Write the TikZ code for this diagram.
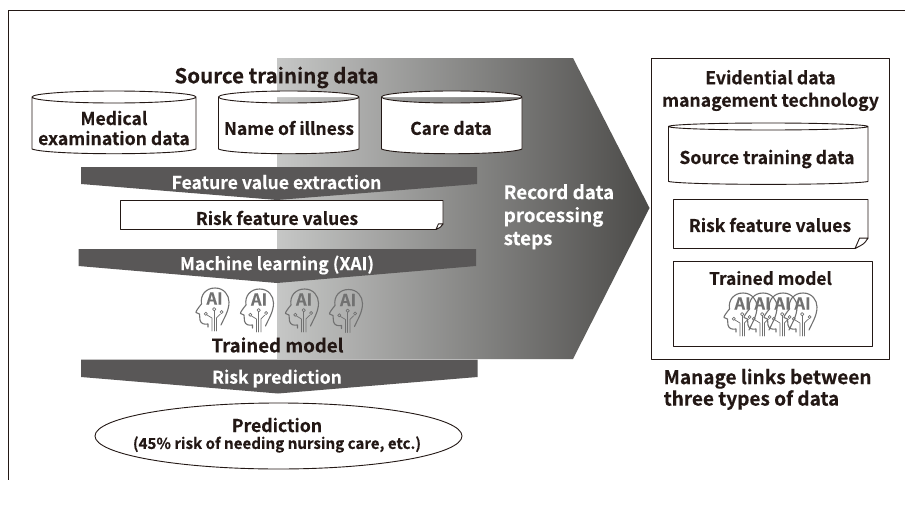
\documentclass[tikz,border=0pt]{standalone}
\usepackage{fontspec}
\setmainfont{Noto Sans CJK JP}[BoldFont={Noto Sans CJK JP Bold},BoldFeatures={FakeBold=0.25}]
\usetikzlibrary{shapes.geometric}
\definecolor{ink}{HTML}{231815}
\definecolor{band}{HTML}{595757}
\definecolor{headc}{HTML}{717171}
\definecolor{gradl}{HTML}{C6C7C6}
\definecolor{gradr}{HTML}{4B4A48}
\tikzset{
  outline/.style={draw=ink,line width=0.9pt,fill=white,line join=round},
  lab/.style={font=\bfseries\fontsize{#1}{20}\selectfont,text=ink,align=center,inner sep=0pt},
  wlab/.style={font=\bfseries\fontsize{#1}{23}\selectfont,text=white,align=left,inner sep=0pt},
  hd/.style={draw=headc,line width=1.1pt,line join=round,line cap=round},
  pics/aihead/.style={code={
    \draw[hd] (13,40) -- (13,37) .. controls (9,37.5) and (6,37) .. (5,33)
      -- (4.5,27) -- (1,25.5) .. controls (0.5,24.5) and (4,20) .. (6.5,17)
      .. controls (5,8) and (11,1) .. (20,1) .. controls (29,1) and (34,8) .. (34,15)
      .. controls (34,24) and (29,31) .. (26,38);
    \node[font=\bfseries\fontsize{16.5}{16.5}\selectfont,text=headc,inner sep=0pt] at (19.5,11.5) {AI};
    \draw[hd,line width=0.7pt] (17,44) -- (17,31) -- (12,28);
    \draw[hd,line width=0.7pt] (19.2,44) -- (19.2,24);
    \draw[hd,line width=0.7pt] (21.4,44) -- (21.4,31) -- (25.5,27);
    \draw[hd,line width=0.7pt,fill=none] (10.8,26.8) circle (1.6) (19.2,22.2) circle (1.7) (26.6,25) circle (1.6);
  }},
}
\newcommand{\cyl}[5]{% x1 x2 ytop ybot ry
  \path[outline] (#1,#3+#5) -- (#1,#4-#5)
    .. controls (#1+0.1*#2-0.1*#1,#4+0.3) and (#2-0.1*#2+0.1*#1,#4+0.3) .. (#2,#4-#5)
    -- (#2,#3+#5) arc[start angle=0,end angle=360,x radius={(#2-#1)/2},y radius=#5];
}
\newcommand{\note}[5]{% x1 x2 y1 y2 fold
  \path[outline] (#1,#3) -- (#2,#3) -- (#2,#4-#5*0.8) -- (#2-#5,#4) -- (#1,#4) -- cycle;
  \path[outline] (#2-#5,#4) -- (#2-#5*0.65,#4-#5*0.8) -- (#2,#4-#5*0.8) .. controls (#2-#5*0.3,#4-#5*0.35) .. (#2-#5,#4);
}
\newcommand{\banner}[6]{% x1 x2 top side tipx tipy
  \fill[band] (#1,#3) -- (#2,#3) -- (#2,#4) -- (#5,#6) -- (#1,#4) -- cycle;
}
\begin{document}
\begin{tikzpicture}[x=1pt,y=-1pt]
\useasboundingbox (0,0) rectangle (905,506);
\fill[white] (0,0) rectangle (905,506);
% frame
\draw[draw=ink,line width=0.9pt] (905,10) -- (8,10) -- (8,480);
% big arrow
\shade[left color=gradl,right color=gradr] (277,58) -- (573,58) -- (649.5,208) -- (573,359) -- (277,359) -- cycle;
% title
\node[lab=20.5] (title) at (276.5,77.5) {Source training data};
% cylinders
\cyl{32}{196}{91}{155}{6}
\node[lab=17.6] (med) at (114,128) {Medical\\examination data};
\cyl{218.5}{359}{91}{155}{6}
\node[lab=17.4] (ill) at (289,128) {Name of illness};
\cyl{381.5}{522}{91}{155}{6}
\node[lab=17.4] (care) at (451,128) {Care data};
% banner 1
\banner{81}{477}{167}{184}{277}{200}
\node[wlab=17.6] (fve) at (276.5,182) {Feature value extraction};
\note{120.5}{443}{200.5}{229.5}{7}
\node[lab=17.5] (rfv) at (277,218) {Risk feature values};
% banner 2
\banner{78.5}{476}{249}{266}{277}{283}
\node[wlab=17.6] (ml) at (277,265) {Machine learning (XAI)};
% heads
\pic at (195,287) {aihead};
\pic at (239.5,288) {aihead};
\pic at (284.5,288) {aihead};
\pic at (328.5,288.5) {aihead};
\node[lab=18.6] (tm) at (277.5,345) {Trained model};
% banner 3
\banner{81}{477.5}{359.5}{377}{278}{393.5}
\node[wlab=17.5] (rp) at (277,378.5) {Risk prediction};
% prediction
\node[ellipse,outline,minimum width=367pt,minimum height=66pt,inner sep=0pt] (pred) at (278.5,436) {};
\node[lab=17.6] (pred1) at (277,425) {Prediction};
\node[lab=15.1] (pred2) at (277,444.5) {(45\% risk of needing nursing care, etc.)};
% record
\node[wlab=18.8,anchor=north west] (rec) at (503.5,184) {Record data\\processing\\steps};
% right box
\path[outline] (651,58.5) rectangle (889,359.5);
\node[text=ink,align=center,inner sep=0pt,font=\bfseries\fontsize{17.6}{22.5}\selectfont] (edm) at (770.5,90.5) {Evidential data\\management technology};
\cyl{668.5}{868}{123}{185}{3.5}
\node[lab=17.6] (std) at (767,159) {Source training data};
\note{673.5}{868}{199.5}{248.5}{13}
\node[lab=17.5] (rfv2) at (770,225) {Risk feature values};
\path[outline] (673.5,261) rectangle (872,346);
\node[lab=17.3] (tm2) at (770.5,278) {Trained model};
\pic at (723,292) {aihead};
\pic at (743,292) {aihead};
\pic at (763,292) {aihead};
\pic at (783,292) {aihead};
\node[text=ink,align=left,inner sep=0pt,anchor=north west,font=\bfseries\fontsize{19}{21.5}\selectfont] (mgl) at (663.5,368.5) {Manage links between\\three types of data};
\end{tikzpicture}
\end{document}
